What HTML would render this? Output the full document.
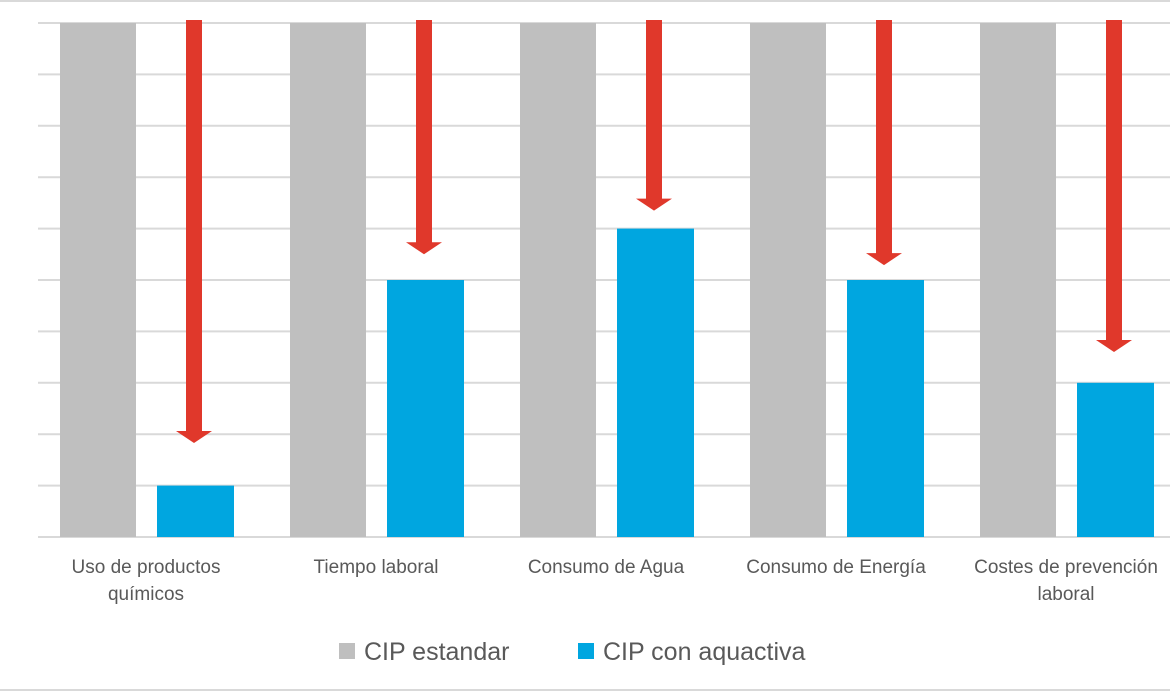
<!DOCTYPE html>
<html><head><meta charset="utf-8"><style>
body{margin:0;background:#fff;width:1170px;height:694px;overflow:hidden}
svg text{font-family:"Liberation Sans",sans-serif;fill:#595959}
</style></head><body>
<svg id="chart" width="1170" height="694" xmlns="http://www.w3.org/2000/svg">
<rect x="-5" y="1" width="1180" height="689" fill="none" stroke="#d9d9d9" stroke-width="2"/>
<g id="grid"></g><g id="bars"></g><g id="arrows"></g><g id="labels"></g>
<g>
<rect x="339" y="643" width="16" height="16" fill="#bfbfbf"/>
<text x="364" y="660" font-size="25">CIP estandar</text>
<rect x="578" y="643" width="16" height="16" fill="#00a6e0"/>
<text x="603" y="660" font-size="25">CIP con aquactiva</text>
</g>
</svg>
<script>
const categories=[["Uso de productos","químicos"],["Tiempo laboral"],["Consumo de Agua"],["Consumo de Energía"],["Costes de prevención","laboral"]];
const standardValues=[10,10,10,10,10];
const aquactivaValues=[1,5,6,5,3];
const arrowEndValues=[1.83,5.5,6.35,5.29,3.6];
const yTicks=[0,1,2,3,4,5,6,7,8,9,10];
const NS="http://www.w3.org/2000/svg";
const x0=38,band=230,yBase=537,unit=51.4;
const y=v=>yBase-v*unit, bx=i=>x0+i*band;
function mk(g,tag,attrs){const e=document.createElementNS(NS,tag);for(const k in attrs)e.setAttribute(k,attrs[k]);document.getElementById(g).appendChild(e);return e;}
yTicks.forEach(t=>{const l=mk('grid','line',{x1:x0,x2:1170,y1:y(t),y2:y(t),stroke:'#d9d9d9','stroke-width':2});

});
categories.forEach((c,i)=>{
const g=mk('bars','rect',{x:bx(i)+22,y:y(standardValues[i]),width:76,height:standardValues[i]*unit,fill:'#bfbfbf'});


const b=mk('bars','rect',{x:bx(i)+119,y:y(aquactivaValues[i]),width:77,height:aquactivaValues[i]*unit,fill:'#00a6e0'});


const cx=bx(i)+156,tip=y(arrowEndValues[i]);
const a=mk('arrows','path',{d:`M${cx-8},20 L${cx+8},20 L${cx+8},${tip-12} L${cx+18},${tip-12} L${cx},${tip} L${cx-18},${tip-12} L${cx-8},${tip-12} Z`,fill:'#e0382b'});


const t=mk('labels','text',{x:bx(i)+108,y:573,'font-size':19,'text-anchor':'middle'});


c.forEach((line,j)=>{const s=document.createElementNS(NS,'tspan');s.setAttribute('x',bx(i)+108);s.setAttribute('dy',j?27:0);s.textContent=line;t.appendChild(s);});
});
</script>
</body></html>
